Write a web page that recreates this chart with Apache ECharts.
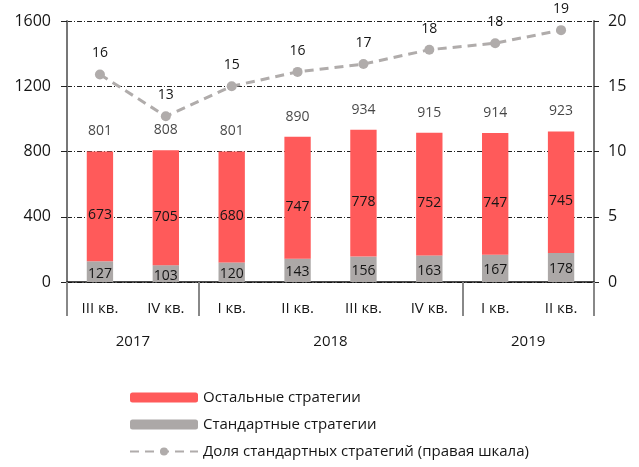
<!DOCTYPE html>
<html>
<head>
<meta charset="utf-8">
<script src="https://cdn.jsdelivr.net/npm/echarts@6/dist/echarts.min.js"></script>
<style>
  html, body { margin: 0; padding: 0; background: #fff; }
  #chart { width: 639px; height: 467px; }
</style>
</head>
<body>
<div id="chart"></div>
<script>
// data
var quarters = ['III кв.', 'IV кв.', 'I кв.', 'II кв.', 'III кв.', 'IV кв.', 'I кв.', 'II кв.']
var years = ['2017', '2018', '2019']
var yearSpans = [2, 4, 2]
var standard = [127, 103, 120, 143, 156, 163, 167, 178]
var others = [673, 705, 680, 747, 778, 752, 747, 745]
var totals = [801, 808, 801, 890, 934, 915, 914, 923]
var share = [15.9, 12.7, 15.0, 16.1, 16.7, 17.8, 18.3, 19.3]

var seriesNames = ['Остальные стратегии', 'Стандартные стратегии', 'Доля стандартных стратегий (правая шкала)']

// year group boundaries and centers on a 0..n value scale
var yearBounds = [0]
var yearCenters = []
yearSpans.forEach(function (s, i) {
  var start = yearBounds[i]
  yearBounds.push(start + s)
  yearCenters.push(start + s / 2)
})

var FONT = '"Open Sans", "Noto Sans", sans-serif'
var TEXT = '#151515'
var RED = '#ff5a5a'
var GREY = '#aca8a7'

var chart = echarts.init(document.getElementById('chart'))
chart.setOption({
  backgroundColor: '#ffffff',
  animation: false,
  textStyle: { fontFamily: FONT, color: TEXT },
  grid: { left: 67, right: 45, top: 21, bottom: 185 },
  legend: {
    data: seriesNames,
    orient: 'vertical',
    left: 129,
    top: 390,
    padding: 0,
    itemWidth: 68,
    itemHeight: 10,
    itemGap: 12,
    textStyle: { fontFamily: FONT, fontSize: 15, color: TEXT }
  },
  xAxis: [
    {
      type: 'category',
      data: quarters,
      axisLine: { lineStyle: { color: '#111', width: 1.5 } },
      axisTick: { length: 36, lineStyle: { color: '#111', width: 1 } },
      axisLabel: { margin: 19, fontSize: 15, color: TEXT, fontFamily: FONT }
    },
    {
      type: 'value',
      position: 'bottom',
      offset: 36,
      min: 0,
      max: quarters.length,
      splitLine: { show: false },
      axisLine: { show: false },
      axisTick: { show: true, length: 34, customValues: yearBounds, lineStyle: { color: '#888', width: 2 } },
      axisLabel: {
        customValues: yearCenters,
        margin: 16,
        fontSize: 15,
        color: TEXT,
        fontFamily: FONT,
        formatter: function (v) {
          var i = yearCenters.indexOf(v)
          return i >= 0 ? years[i] : ''
        }
      }
    }
  ],
  yAxis: [
    {
      type: 'value',
      min: 0,
      max: 1600,
      interval: 400,
      axisLine: { show: true, lineStyle: { color: '#777', width: 2 } },
      axisTick: { show: true, length: 6, lineStyle: { color: '#222' } },
      axisLabel: { margin: 16, fontSize: 16, color: TEXT, fontFamily: FONT, formatter: function (v) { return String(v) } },
      splitLine: { lineStyle: { color: '#222', width: 1, type: [5, 2, 1, 2] } }
    },
    {
      type: 'value',
      min: 0,
      max: 20,
      interval: 5,
      axisLine: { show: true, lineStyle: { color: '#777', width: 2 } },
      axisTick: { show: true, length: 5, lineStyle: { color: '#222' } },
      axisLabel: { margin: 14, fontSize: 16, color: TEXT, fontFamily: FONT },
      splitLine: { show: false }
    }
  ],
  series: [
    {
      name: seriesNames[1],
      type: 'bar',
      stack: 'total',
      barWidth: '40%',
      data: standard,
      itemStyle: { color: GREY },
      label: { show: true, position: 'inside', fontSize: 14, color: TEXT, fontFamily: FONT, offset: [0, 2] }
    },
    {
      name: seriesNames[0],
      type: 'bar',
      stack: 'total',
      data: others,
      itemStyle: { color: RED },
      label: { show: true, position: 'inside', fontSize: 14, color: TEXT, fontFamily: FONT, offset: [0, 9] }
    },
    {
      name: 'totals',
      type: 'scatter',
      data: totals,
      symbolSize: 0,
      silent: true,
      label: { show: true, position: 'top', distance: 13, fontSize: 14, color: TEXT, fontFamily: FONT }
    },
    {
      name: seriesNames[2],
      type: 'line',
      yAxisIndex: 1,
      data: share,
      symbol: 'circle',
      symbolSize: 10,
      itemStyle: { color: '#b0acab' },
      lineStyle: { color: '#b0acab', width: 3, type: [9, 6] },
      label: {
        show: true, position: 'top', distance: 9, fontSize: 14, color: TEXT, fontFamily: FONT,
        formatter: function (p) { return Math.round(p.value) }
      }
    }
  ]
})
</script>
</body>
</html>
